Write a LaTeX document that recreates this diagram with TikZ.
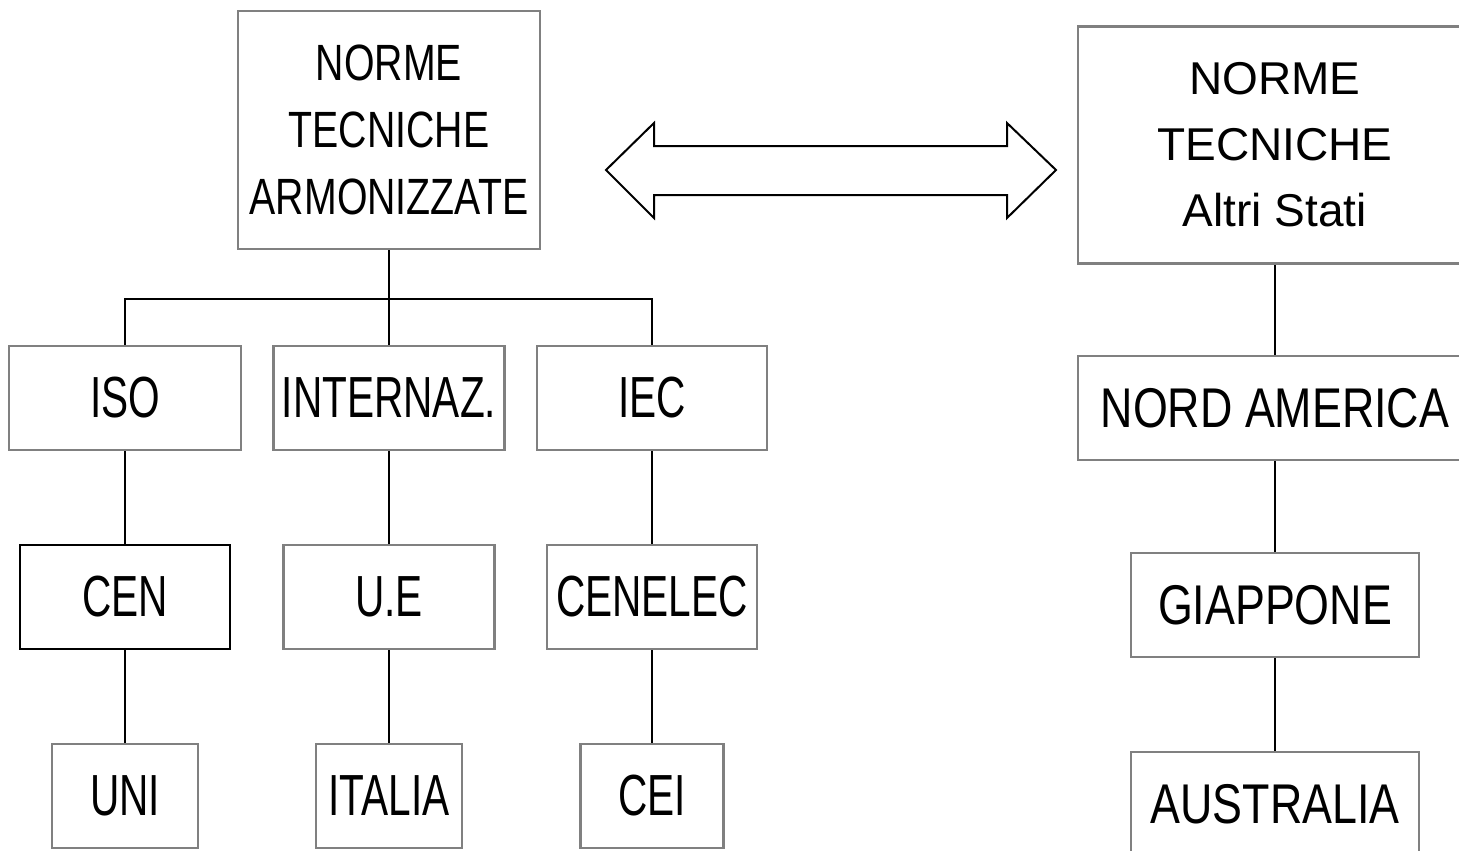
\documentclass[tikz,border=0pt]{standalone}
\usepackage{fontspec}
\setmainfont{Liberation Sans}
\newfontfamily\condfont[FakeStretch=0.7]{Liberation Sans}
\newfontfamily\semicondfont[FakeStretch=0.8]{Liberation Sans}
\newfontfamily\topfont[FakeStretch=0.77]{Liberation Sans}
\definecolor{boxgray}{RGB}{128,128,128}

\begin{document}
\begin{tikzpicture}[x=1pt,y=-1pt,
  box/.style={draw=boxgray, line width=2.5pt, fill=white, inner sep=0pt, align=center},
  small/.style={box, minimum height=104, font=\condfont\fontsize{58}{70}\selectfont},
  other/.style={box, minimum height=104, font=\semicondfont\fontsize{56}{66}\selectfont},
  link/.style={line width=2pt}]

\clip (0,0) rectangle (1459,851);

% harmonised standards and their tree
  \node[box, minimum width=302, minimum height=238,
        font=\topfont\fontsize{51}{67}\selectfont] (arm) at (389,130)
{NORME\\TECNICHE\\ARMONIZZATE};

  \node[small, minimum width=232] (iso)  at (125,398) {ISO};
  \node[small, minimum width=231] (intl) at (389,398) {INTERNAZ.};
  \node[small, minimum width=230] (iec)  at (652,398) {IEC};

  \node[small, minimum width=210, draw=black] (cen) at (125,597) {CEN};
  \node[small, minimum width=211] (ue)      at (389,597) {U.E};
  \node[small, minimum width=210] (cenelec) at (652,597) {CENELEC};

  \node[small, minimum width=146] (uni)    at (125,796) {UNI};
  \node[small, minimum width=146] (italia) at (389,796) {ITALIA};
  \node[small, minimum width=143] (cei)    at (652,796) {CEI};

% standards of other states
  \node[box, minimum width=394, minimum height=237,
        font=\fontsize{46}{66}\selectfont] (nsa) at (1275,145)
{NORME\\TECNICHE\\Altri Stati};

  \node[other, minimum width=394] (nam) at (1275,408) {NORD AMERICA};
  \node[other, minimum width=288] (jap) at (1275,605) {GIAPPONE};
  \node[other, minimum width=288] (aus) at (1275,804) {AUSTRALIA};

% define the links
  \draw[link] (arm.south) -- ++(0,49) coordinate (fork);
  \draw[link] (iso.north) |- (fork) -| (iec.north);
  \draw[link] (fork) -- (intl.north);

  \draw[link] (iso.south) -- (cen.north)
              (cen.south) -- (uni.north);
  \draw[link] (intl.south) -- (ue.north)
              (ue.south) -- (italia.north);
  \draw[link] (iec.south) -- (cenelec.north)
              (cenelec.south) -- (cei.north);

  \draw[link] (nsa.south) -- (nam.north)
              (nam.south) -- (jap.north)
              (jap.south) -- (aus.north);

% the double arrow between the two groups
  \draw[line width=2pt, line join=miter]
    (606,170) -- (654,123) -- (654,146) -- (1007,146) -- (1007,123)
    -- (1056,170) -- (1007,218) -- (1007,195) -- (654,195) -- (654,218) -- cycle;

\end{tikzpicture}
\end{document}
